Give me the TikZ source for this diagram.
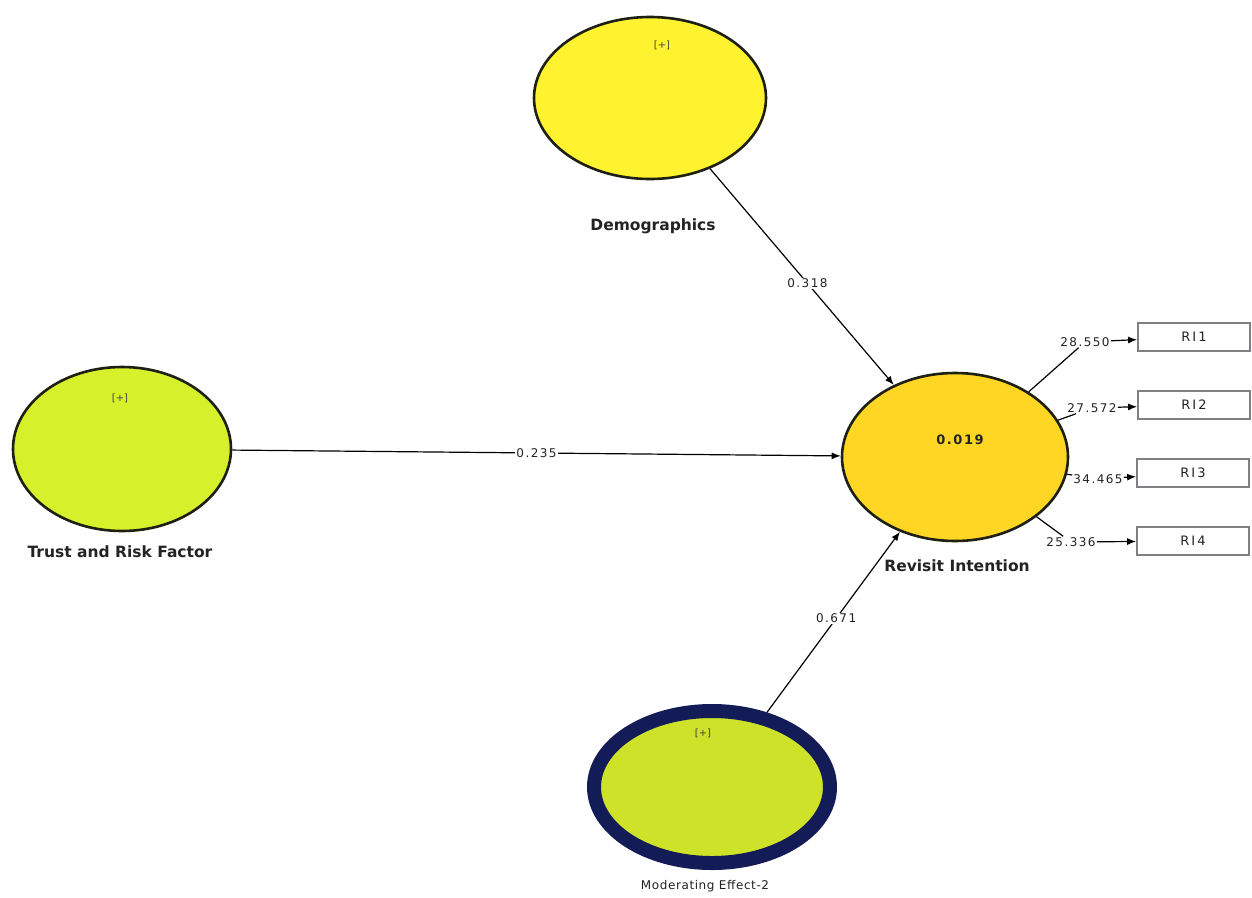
\documentclass[tikz,border=0pt]{standalone}
\usepackage{fontspec}
\setmainfont{DejaVu Sans}
\newfontfamily\coeffont[LetterSpace=12]{DejaVu Sans}
\newfontfamily\itemfont[LetterSpace=15]{DejaVu Sans}
\newfontfamily\modfont[LetterSpace=5]{DejaVu Sans}
\usetikzlibrary{shapes.geometric,arrows.meta}

\definecolor{demofill}{RGB}{255,242,46}
\definecolor{trustfill}{RGB}{214,240,44}
\definecolor{rifill}{RGB}{255,214,36}
\definecolor{modfill}{RGB}{205,226,40}
\definecolor{rimdark}{RGB}{30,32,20}
\definecolor{modrim}{RGB}{20,28,88}
\definecolor{boxrim}{RGB}{128,128,132}
\definecolor{inkgray}{RGB}{35,35,35}

\begin{document}
\begin{tikzpicture}[x=1pt,y=-1pt,
  latent/.style={ellipse, draw=rimdark, line width=2.6pt, inner sep=0pt},
  constructname/.style={font=\fontsize{15.5}{16}\selectfont\bfseries, text=inkgray},
  plusmark/.style={font=\fontsize{10}{10}\selectfont, text=inkgray!85},
  coef/.style={fill=white, inner sep=1pt, font=\coeffont\fontsize{12}{12}\selectfont, text=inkgray},
  indicator/.style={draw=boxrim, line width=1.8pt, fill=white, minimum width=112pt, minimum height=28pt, inner sep=0pt, font=\itemfont\fontsize{13}{13}\selectfont, text=inkgray},
  pathline/.style={draw=black, line width=1.2pt},
  arrowline/.style={pathline, -{Latex[length=9pt,width=7pt]}}
]
\useasboundingbox[fill=white] (0,0) rectangle (1252,897);

% latent constructs
\node[latent, fill=demofill, minimum width=232pt, minimum height=162pt] (demo) at (650,98) {};
\node[latent, fill=trustfill, minimum width=218pt, minimum height=164pt] (trust) at (122,449) {};
\node[latent, fill=rifill, minimum width=226pt, minimum height=168pt] (ri) at (955,457) {};
\node[latent, draw=modrim, line width=14pt, fill=modfill, minimum width=236pt, minimum height=152pt] (mod) at (712,787) {};

% expand markers
\node[plusmark] (demoplus) at (662,45) {[+]};
\node[plusmark] (trustplus) at (120,398) {[+]};
\node[plusmark] (modplus) at (703,733) {[+]};

% R squared
\node[font=\coeffont\fontsize{13}{13}\selectfont\bfseries, text=inkgray] (rsq) at (960,440) {0.019};

% construct names
\node[constructname] (demoname) at (653,226) {Demographics};
\node[constructname] (trustname) at (120,552) {Trust and Risk Factor};
\node[constructname] (riname) at (957,566) {Revisit Intention};
\node[font=\modfont\fontsize{12}{12}\selectfont, text=inkgray] (modname) at (705,886) {Moderating Effect-2};

% indicators
\node[indicator] (b1) at (1194,337) {RI1};
\node[indicator] (b2) at (1194,405) {RI2};
\node[indicator] (b3) at (1193,473) {RI3};
\node[indicator] (b4) at (1193,541) {RI4};

% structural paths
\draw[arrowline] (demo) -- node[coef, pos=0.53] (c1) {0.318} (ri);
\draw[arrowline] (trust) -- node[coef, pos=0.5] (c2) {0.235} (ri);
\draw[arrowline] (mod) -- node[coef, pos=0.52] (c3) {0.671} (ri);

% outer loadings
\node[coef] (l1) at (1085,342) {28.550};
\node[coef] (l2) at (1092,408) {27.572};
\node[coef] (l3) at (1098,479) {34.465};
\node[coef] (l4) at (1071,542) {25.336};

\draw[pathline] (ri) -- (l1);
\draw[pathline] (ri) -- (l2);
\draw[pathline] (ri) -- (l3);
\draw[pathline] (ri) -- (l4);
\draw[arrowline] (l1) -- (b1);
\draw[arrowline] (l2) -- (b2);
\draw[arrowline] (l3) -- (b3);
\draw[arrowline] (l4) -- (b4);
\end{tikzpicture}
\end{document}
